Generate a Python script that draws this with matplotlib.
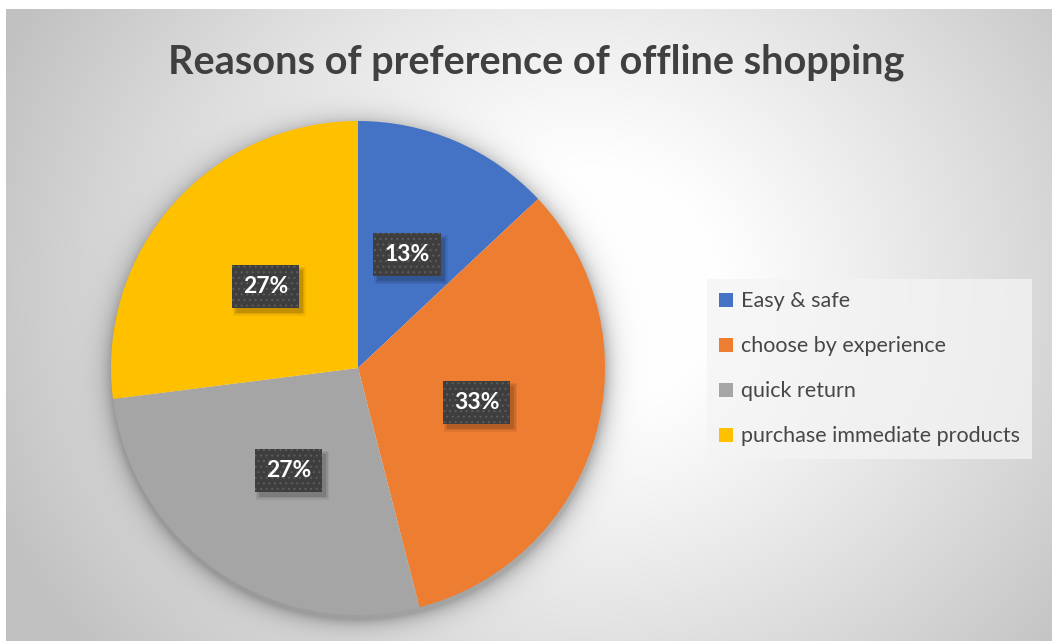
import matplotlib
matplotlib.use("Agg")
import matplotlib.pyplot as plt
import numpy as np
from matplotlib.patches import Rectangle

plt.rcParams["font.family"] = ["Lato", "DejaVu Sans"]
plt.rcParams["hatch.linewidth"] = 0.8

# Survey shares (percent of respondents)
reasons = ["Easy & safe", "choose by experience", "quick return", "purchase immediate products"]
shares = [13, 33, 27, 27]
colors = ["#4472C4", "#ED7D31", "#A5A5A5", "#FFC000"]
title = "Reasons of preference of offline shopping"

W, H, DPI = 1052, 641, 100
fig = plt.figure(figsize=(W / DPI, H / DPI), dpi=DPI)
fig.patch.set_facecolor("white")

# pie geometry in pixels (origin top-left)
cx, cy, rad = 358, 368, 247

# background: radial grey gradient with a soft shadow round the pie
x0, y0 = 6, 9
yy, xx = np.mgrid[y0:H, x0:W].astype(float)
dist = np.hypot((xx - 580) / 1.0, (yy - 290) / 0.9)
shade = np.clip((dist - 130) / 500, 0, 1) ** 1.1
level = 1.0 - 0.24 * shade
d_pie = np.hypot(xx - cx, yy - (cy + 4))
shadow = 0.28 * np.exp(-np.clip(d_pie - rad, 0, None) / 10.0)
shadow[d_pie < rad - 10] = 0
level = level * (1 - shadow)
bg = np.dstack([level, level, level])

bg_ax = fig.add_axes([0, 0, 1, 1], zorder=0)
bg_ax.imshow(bg, extent=(x0, W, H, y0), aspect="auto", interpolation="bilinear")
bg_ax.set_xlim(0, W)
bg_ax.set_ylim(H, 0)
bg_ax.axis("off")

ax = fig.add_axes([(cx - rad) / W, (H - cy - rad) / H, 2 * rad / W, 2 * rad / H], zorder=1)
wedges, _, autotexts = ax.pie(
    shares,
    colors=colors,
    startangle=90,
    counterclock=False,
    radius=1.0,
    autopct="%.0f%%",
    pctdistance=0.5,
    wedgeprops=dict(linewidth=0),
)
ax.set_xlim(-1, 1)
ax.set_ylim(-1, 1)
ax.set_aspect("auto")

for t in autotexts:
    t.set_color("white")
    t.set_fontweight("bold")
    t.set_fontsize(16.5)
    t.set_zorder(5)
    t.set_bbox(dict(boxstyle="square,pad=0.48", fc="#3e3e3e", ec="#5c5c5c", lw=0, hatch="..."))

# soft drop shadow under each label box, offset down-right
fig.canvas.draw()
renderer = fig.canvas.get_renderer()
for t in autotexts:
    ext = t.get_bbox_patch().get_window_extent(renderer)
    for grow, a in [(3, 0.06), (1.5, 0.08), (0, 0.12)]:
        ax.add_patch(Rectangle((ext.x0 + 4 - grow, ext.y0 - 5 - grow),
                               ext.width + 2 * grow, ext.height + 2 * grow,
                               transform=None, fc="black", alpha=a, lw=0, zorder=4))

fig.text(536 / W, 1 - 62 / H, title, ha="center", va="center",
         fontsize=28.5, fontweight="bold", color="#404040")

leg = fig.legend(
    wedges, reasons,
    loc="upper left",
    bbox_to_anchor=(707 / W, 1 - 279 / H),
    borderaxespad=0,
    frameon=True,
    fancybox=False,
    fontsize=15.5,
    handlelength=0.65,
    handleheight=0.65,
    handletextpad=0.33,
    labelspacing=1.16,
    borderpad=0.58,
    labelcolor="#474747",
)
frame = leg.get_frame()
frame.set_facecolor("#f4f4f4")
frame.set_alpha(0.75)
frame.set_linewidth(0)

fig.savefig("out.png", dpi=DPI)
